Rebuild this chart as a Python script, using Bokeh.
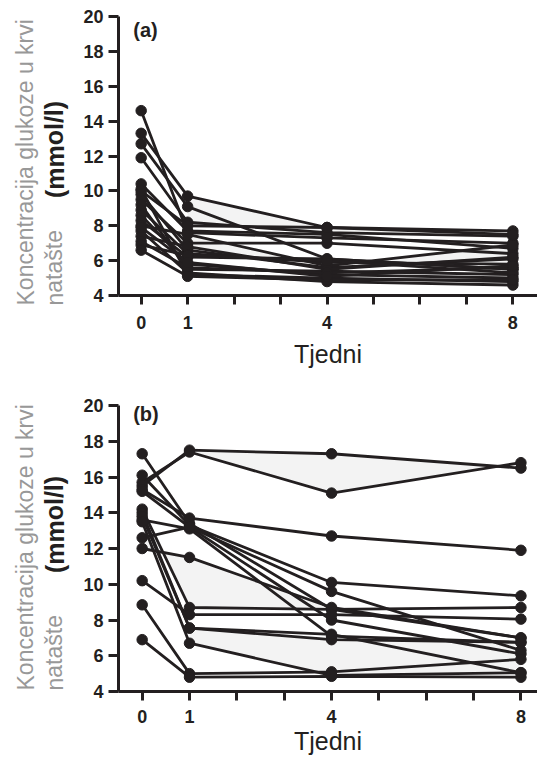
from bokeh.plotting import figure
from bokeh.models import Range1d, FixedTicker, Label
from bokeh.layouts import column, row
from bokeh.core.properties import value
from bokeh.embed import file_html
from bokeh.resources import INLINE

# ---------------- data ----------------
weeks = [0, 1, 4, 8]
x_ticks = [0, 1, 2, 3, 4, 5, 6, 7, 8]
x_tick_hidden = [2, 3, 5, 6, 7]
y_ticks = [4, 6, 8, 10, 12, 14, 16, 18, 20]
x_axis_title = "Tjedni"
y_title_grey = "Koncentracija glukoze u krvi"
y_title_unit = "(mmol/l)"
y_title_grey2 = "natašte"
panel_labels = ["(a)", "(b)"]

# panel (a): fasting glucose per subject at weeks 0, 1, 4, 8
a_week0 = [14.6, 13.3, 12.7, 11.9, 10.4, 10.1, 9.8, 9.5, 9.2, 8.9, 8.6, 8.3, 8.0, 7.7, 7.4, 7.1, 6.9, 6.6, 10.0, 7.9]
a_week1 = [7.6, 9.7, 9.1, 8.2, 7.7, 5.2, 6.6, 7.0, 5.5, 6.4, 5.8, 6.2, 7.5, 5.3, 6.8, 5.6, 6.3, 5.1, 8.0, 5.9]
a_week4 = [7.3, 7.9, 6.1, 7.6, 7.5, 5.0, 5.6, 7.0, 5.4, 5.9, 5.2, 6.1, 5.7, 4.8, 5.5, 5.3, 6.0, 4.9, 7.9, 5.1]
a_week8 = [7.0, 7.7, 5.5, 7.4, 6.7, 4.8, 6.1, 6.4, 5.2, 5.8, 5.0, 5.5, 6.9, 4.6, 6.2, 5.6, 5.3, 4.9, 7.5, 5.7]

# panel (b)
b_week0 = [15.5, 15.7, 17.3, 16.1, 15.3, 15.2, 14.2, 14.0, 13.6, 12.6, 12.0, 10.2, 8.85, 6.9, 13.8, 13.5]
b_week1 = [17.5, 17.4, 13.4, 13.3, 13.7, 13.2, 8.7, 7.55, 13.1, 13.2, 11.5, 8.3, 5.0, 4.8, 7.55, 6.7]
b_week4 = [17.3, 15.1, 8.6, 10.1, 12.7, 8.0, 8.6, 6.9, 7.1, 9.6, 8.7, 8.3, 5.1, 4.85, 7.2, 4.9]
b_week8 = [16.5, 16.8, 7.0, 9.35, 11.9, 6.1, 8.7, 6.75, 6.75, 6.3, 7.0, 8.05, 5.8, 4.8, 5.05, 5.05]

# light shaded areas between pairs of subjects (subject indices, week indices)
a_shade_pairs = [(1, 3, [1, 2, 3]), (12, 16, [1, 2, 3])]
b_shade_pairs = [(0, 1, [1, 2, 3]), (10, 6, [0, 1, 2]), (7, 15, [1, 2, 3])]

INK = "#231f20"
GREY = "#989898"
FONT = "Liberation Sans"
LABEL_W = 80
TOTAL_W = 537
H_A = 370
H_B = 387
TOTAL_H = H_A + H_B


def make_title_strip():
    s = figure(width=LABEL_W, height=TOTAL_H, output_backend="svg", toolbar_location=None,
               x_range=Range1d(0, LABEL_W), y_range=Range1d(0, TOTAL_H),
               x_axis_location=None, y_axis_location=None,
               min_border=0, min_border_left=0, min_border_right=0,
               min_border_top=0, min_border_bottom=0)
    s.outline_line_color = None
    s.xgrid.grid_line_color = None
    s.ygrid.grid_line_color = None
    # positions measured from the bottom of the page strip
    grey_bottoms = [TOTAL_H - 305, TOTAL_H - 690]
    unit_centers = [TOTAL_H - 149, TOTAL_H - 524]
    for gb, uc in zip(grey_bottoms, unit_centers):
        s.text(x=[25, 54], y=[gb, gb], text=[y_title_grey, y_title_grey2],
               angle=1.5708, text_align="left", text_baseline="middle",
               text_font=value(FONT), text_font_size="23px", text_color=GREY)
        s.text(x=[54], y=[uc], text=[y_title_unit], angle=1.5708,
               text_align="center", text_baseline="middle", text_font=value(FONT),
               text_font_size="25px", text_font_style="bold", text_color=INK)
    return s


def make_panel(cols, shades, height, bt, bb, bl, xr, plabel_pos, tick_standoff, title_standoff):
    p = figure(width=TOTAL_W - LABEL_W, height=height, output_backend="svg", toolbar_location=None,
               x_range=Range1d(*xr), y_range=Range1d(4, 20),
               min_border_left=bl, min_border_right=0, min_border_top=bt, min_border_bottom=bb)
    p.outline_line_color = None
    p.xgrid.grid_line_color = None
    p.ygrid.grid_line_color = None
    p.background_fill_color = "white"
    p.border_fill_color = "white"

    n = len(cols[0])
    for (i, j, wk) in shades:
        xs = [weeks[k] for k in wk] + [weeks[k] for k in reversed(wk)]
        ys = [cols[k][i] for k in wk] + [cols[k][j] for k in reversed(wk)]
        p.patch(xs, ys, fill_color="#f3f3f3", line_color=None)

    for s in range(n):
        ys = [c[s] for c in cols]
        p.line(weeks, ys, line_color=INK, line_width=2.8)
        p.scatter(weeks, ys, size=10.5, fill_color=INK, line_color=INK)

    for ax in (p.xaxis[0], p.yaxis[0]):
        ax.axis_line_width = 3
        ax.axis_line_color = INK
        ax.major_tick_line_width = 3
        ax.major_tick_line_color = INK
        ax.major_tick_in = 0
        ax.minor_tick_line_color = None
        ax.major_label_text_font = FONT
        ax.major_label_text_font_style = "bold"
        ax.major_label_text_font_size = "18px"
        ax.major_label_text_color = INK
    p.xaxis.major_tick_out = 9
    p.yaxis.major_tick_out = 10
    p.xaxis.ticker = FixedTicker(ticks=x_ticks)
    p.xaxis.major_label_overrides = {t: "" for t in x_tick_hidden}
    p.xaxis.major_label_standoff = tick_standoff
    p.xaxis.axis_label = x_axis_title
    p.xaxis.axis_label_text_font = FONT
    p.xaxis.axis_label_text_font_style = "normal"
    p.xaxis.axis_label_text_font_size = "25px"
    p.xaxis.axis_label_text_color = INK
    p.xaxis.axis_label_standoff = title_standoff
    p.yaxis.ticker = FixedTicker(ticks=y_ticks)
    p.yaxis.major_label_standoff = 5

    lx, ly, txt = plabel_pos
    p.add_layout(Label(x=lx, y=ly, text=txt, text_align="left", text_baseline="middle",
                       text_font=FONT, text_font_size="20px", text_font_style="bold",
                       text_color=INK))
    return p


strip = make_title_strip()
pa = make_panel([a_week0, a_week1, a_week4, a_week8], a_shade_pairs, H_A, 16, 73, 32,
                (-0.488, 8.53), (-0.17, 19.2, panel_labels[0]), 11, 8)
pb = make_panel([b_week0, b_week1, b_week4, b_week8], b_shade_pairs, H_B, 35, 65, 33,
                (-0.50, 8.35), (-0.19, 19.55, panel_labels[1]), 9, 1)

layout = row(strip, column(pa, pb, spacing=0), spacing=0)
open("out.html", "w").write(file_html(layout, INLINE))
